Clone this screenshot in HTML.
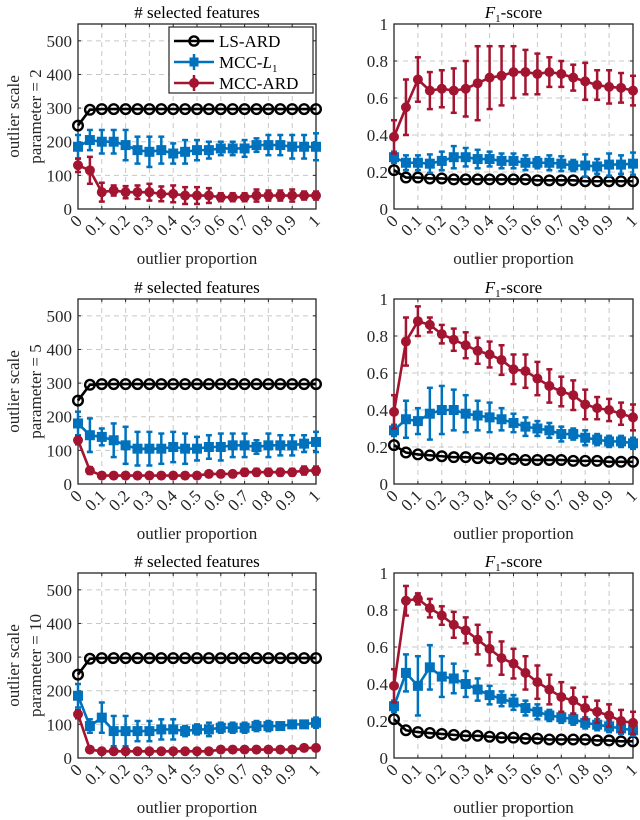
<!DOCTYPE html>
<html><head><meta charset="utf-8"><style>
html,body{margin:0;padding:0;background:#fff;}
svg{display:block;font-family:"Liberation Serif",serif;}
</style></head><body>
<svg id="fig" width="640" height="820" viewBox="0 0 640 820" xmlns="http://www.w3.org/2000/svg"></svg>
<script>
const xValues = [0,0.05,0.1,0.15,0.2,0.25,0.3,0.35,0.4,0.45,0.5,0.55,0.6,0.65,0.7,0.75,0.8,0.85,0.9,0.95,1];
const xTickLabels = ['0','0.1','0.2','0.3','0.4','0.5','0.6','0.7','0.8','0.9','1'];
const featTicks = [0,100,200,300,400,500];
const f1Ticks = [0,0.2,0.4,0.6,0.8,1];
const f1TickLabels = ['0','0.2','0.4','0.6','0.8','1'];
const scaleParams = ['2','5','10'];
const seriesNames = ['LS-ARD','MCC-L1','MCC-ARD'];

// scale 2 - features
const feat2LS = [248,295,297,297,297,297,297,297,297,297,297,297,297,297,297,297,297,297,297,297,297];
const feat2L1 = [185,205,200,200,190,175,170,175,165,170,175,175,180,180,180,190,190,190,185,185,185];
const feat2L1Err = [35,30,35,35,45,40,45,40,30,35,30,25,20,20,25,20,30,30,35,35,40];
const feat2ARD = [130,115,50,55,50,50,50,45,45,40,40,40,35,35,35,40,40,40,40,40,40];
const feat2ARDErr = [20,40,28,15,18,20,25,22,25,25,25,22,12,12,12,18,15,15,18,12,12];
// scale 2 - F1
const f12LS = [0.21,0.17,0.17,0.165,0.165,0.16,0.16,0.16,0.16,0.16,0.16,0.16,0.155,0.155,0.155,0.155,0.15,0.15,0.15,0.15,0.15];
const f12L1 = [0.28,0.25,0.25,0.245,0.26,0.28,0.28,0.27,0.27,0.26,0.26,0.25,0.25,0.25,0.245,0.235,0.235,0.23,0.24,0.24,0.245];
const f12L1Err = [0.03,0.04,0.04,0.05,0.05,0.06,0.05,0.05,0.04,0.04,0.04,0.04,0.03,0.04,0.04,0.03,0.06,0.04,0.06,0.05,0.06];
const f12ARD = [0.39,0.55,0.70,0.64,0.65,0.64,0.65,0.68,0.71,0.72,0.74,0.74,0.73,0.74,0.73,0.71,0.69,0.67,0.66,0.655,0.64];
const f12ARDErr = [0.09,0.15,0.12,0.1,0.1,0.12,0.15,0.2,0.17,0.16,0.14,0.12,0.11,0.08,0.07,0.07,0.1,0.08,0.09,0.08,0.08];
// scale 5 - features
const feat5LS = [248,295,297,297,297,297,297,297,297,297,297,297,297,297,297,297,297,297,297,297,297];
const feat5L1 = [180,145,140,130,115,105,105,105,110,105,105,110,110,115,115,110,115,115,115,120,125];
const feat5L1Err = [35,50,25,50,55,50,50,45,45,45,35,35,40,35,35,20,35,30,30,25,30];
const feat5ARD = [130,40,25,25,25,25,25,25,25,25,25,30,30,30,35,35,35,35,35,40,40];
const feat5ARDErr = [12,10,8,8,8,8,8,8,8,8,8,8,8,8,10,10,10,10,10,12,12];
// scale 5 - F1
const f15LS = [0.21,0.17,0.16,0.155,0.15,0.145,0.145,0.14,0.14,0.135,0.135,0.13,0.13,0.13,0.13,0.125,0.125,0.125,0.12,0.12,0.12];
const f15L1 = [0.29,0.35,0.34,0.38,0.40,0.40,0.38,0.37,0.36,0.35,0.33,0.31,0.30,0.29,0.27,0.27,0.25,0.24,0.23,0.23,0.22];
const f15L1Err = [0.03,0.1,0.07,0.14,0.13,0.11,0.1,0.08,0.08,0.06,0.05,0.05,0.04,0.04,0.04,0.03,0.04,0.03,0.03,0.03,0.03];
const f15ARD = [0.39,0.77,0.88,0.86,0.81,0.78,0.75,0.72,0.70,0.67,0.62,0.61,0.57,0.53,0.50,0.48,0.43,0.41,0.40,0.38,0.36];
const f15ARDErr = [0.09,0.13,0.08,0.04,0.05,0.06,0.07,0.07,0.07,0.08,0.08,0.09,0.09,0.09,0.08,0.08,0.08,0.06,0.06,0.06,0.07];
// scale 10 - features
const feat10LS = [248,295,297,297,297,297,297,297,297,297,297,297,297,297,297,297,297,297,297,297,297];
const feat10L1 = [185,95,120,80,80,80,80,85,85,80,85,85,90,90,90,95,95,95,100,100,105];
const feat10L1Err = [35,20,45,45,45,30,30,30,30,15,15,20,15,15,15,15,15,10,10,10,15];
const feat10ARD = [130,25,20,20,20,20,20,20,20,20,20,20,25,25,25,25,25,25,25,30,30];
const feat10ARDErr = [12,8,6,6,6,6,6,6,6,6,6,6,6,6,6,6,6,6,6,8,8];
// scale 10 - F1
const f110LS = [0.21,0.15,0.14,0.135,0.13,0.125,0.12,0.12,0.115,0.11,0.11,0.105,0.105,0.1,0.1,0.1,0.1,0.095,0.095,0.09,0.09];
const f110L1 = [0.28,0.46,0.39,0.49,0.44,0.43,0.40,0.37,0.34,0.32,0.30,0.27,0.25,0.23,0.22,0.21,0.19,0.18,0.17,0.16,0.15];
const f110L1Err = [0.03,0.1,0.16,0.12,0.11,0.08,0.07,0.06,0.05,0.04,0.04,0.04,0.04,0.03,0.03,0.03,0.03,0.03,0.03,0.03,0.03];
const f110ARD = [0.39,0.85,0.86,0.81,0.77,0.72,0.69,0.64,0.59,0.54,0.51,0.46,0.41,0.37,0.33,0.31,0.27,0.25,0.23,0.20,0.19];
const f110ARDErr = [0.09,0.08,0.03,0.05,0.05,0.07,0.07,0.08,0.09,0.09,0.08,0.09,0.09,0.08,0.08,0.07,0.06,0.06,0.06,0.06,0.06];

const NS='http://www.w3.org/2000/svg';
const svg=document.getElementById('fig');
function mk(tag,attrs,parent){const e=document.createElementNS(NS,tag);for(const k in attrs)e.setAttribute(k,attrs[k]);(parent||svg).appendChild(e);return e;}
const COL=['#000000','#0072BD','#A2142F'];
const rowBottoms=[209,484,758];
const H=185;
const featData=[[feat2LS,feat2L1,feat2L1Err,feat2ARD,feat2ARDErr],[feat5LS,feat5L1,feat5L1Err,feat5ARD,feat5ARDErr],[feat10LS,feat10L1,feat10L1Err,feat10ARD,feat10ARDErr]];
const f1Data=[[f12LS,f12L1,f12L1Err,f12ARD,f12ARDErr],[f15LS,f15L1,f15L1Err,f15ARD,f15ARDErr],[f110LS,f110L1,f110L1Err,f110ARD,f110ARDErr]];

function panel(r,isF1){
  const x0=isF1?394:78, x1=isF1?633:316;
  const yb=rowBottoms[r], yt=yb-H;
  const ymax=isF1?1:550;
  const sx=v=>x0+(x1-x0)*v;
  const sy=v=>yb-H*v/ymax;
  const g=mk('g',{});
  
  
  for(let i=0;i<xTickLabels.length;i++){const xv=sx(i/10);
    if(i>0&&i<10)mk('line',{x1:xv,x2:xv,y1:yt,y2:yb,stroke:'#c8c8c8','stroke-dasharray':'5,4','stroke-width':1},g);}
  const yt_=isF1?f1Ticks:featTicks;
  yt_.forEach(v=>{const yy=sy(v);if(v>0&&v<ymax)mk('line',{x1:x0,x2:x1,y1:yy,y2:yy,stroke:'#c8c8c8','stroke-dasharray':'5,4','stroke-width':1},g);});
  const box=mk('rect',{x:x0,y:yt,width:x1-x0,height:H,fill:'none',stroke:'#262626','stroke-width':1.3},g);
  
  
  yt_.forEach((v,i)=>{const yy=sy(v);
    mk('line',{x1:x0,x2:x0+3,y1:yy,y2:yy,stroke:'#262626'},g);
    mk('line',{x1:x1,x2:x1-3,y1:yy,y2:yy,stroke:'#262626'},g);
    const t=mk('text',{x:x0-6,y:yy+6,'text-anchor':'end','font-size':17,fill:'#262626'},g);
    t.textContent=isF1?f1TickLabels[i]:String(v);
    
    
  });
  xTickLabels.forEach((lab,i)=>{const xv=sx(i/10);
    mk('line',{x1:xv,x2:xv,y1:yb,y2:yb-3,stroke:'#262626'},g);
    mk('line',{x1:xv,x2:xv,y1:yt,y2:yt+3,stroke:'#262626'},g);
    const ax=xv+5, ay=yb+13;
    const t=mk('text',{x:ax,y:ay,'text-anchor':'end','font-size':17,fill:'#262626',transform:`rotate(-45 ${ax} ${ay})`},g);
    t.textContent=lab;
    
    
  });
  const xl=mk('text',{x:(x0+x1)/2,y:yb+55,'text-anchor':'middle','font-size':17,fill:'#262626'},g);
  xl.textContent='outlier proportion';
  
  
  const ti=mk('text',{x:(x0+x1)/2,y:yt-6,'text-anchor':'middle','font-size':17,fill:'#000'},g);
  
  
  if(isF1){ti.innerHTML='<tspan font-style="italic">F</tspan><tspan font-size="11" dy="4">1</tspan><tspan dy="-4">-score</tspan>';}
  else ti.textContent='# selected features';
  if(!isF1){
    const cy=yt+H/2;
    const yl=mk('text',{x:0,y:0,'text-anchor':'middle','font-size':17,fill:'#262626',transform:`translate(19 ${cy}) rotate(-90)`},g);
    yl.textContent='outlier scale';
    
    
    const yl2=mk('text',{x:0,y:0,'text-anchor':'middle','font-size':17,fill:'#262626',transform:`translate(41 ${cy}) rotate(-90)`},g);
    yl2.textContent='parameter = '+scaleParams[r];
    
    
  }
  const d=isF1?f1Data[r]:featData[r];
  const series=[[d[0],null],[d[1],d[2]],[d[3],d[4]]];
  series.forEach((s,si)=>{
    const sg=mk('g',{},g);
    
    
    const vals=s[0],err=s[1],c=COL[si];
    if(err){vals.forEach((v,i)=>{const xv=sx(xValues[i]);
      mk('line',{x1:xv,x2:xv,y1:sy(v-err[i]),y2:sy(v+err[i]),stroke:c,'stroke-width':2.5},sg);
      [v-err[i],v+err[i]].forEach(e=>mk('line',{x1:xv-3,x2:xv+3,y1:sy(e),y2:sy(e),stroke:c,'stroke-width':2.5},sg));});}
    mk('polyline',{points:vals.map((v,i)=>sx(xValues[i])+','+sy(v)).join(' '),fill:'none',stroke:c,'stroke-width':2.6},sg);
    vals.forEach((v,i)=>{const xv=sx(xValues[i]),yy=sy(v);let m;
      if(si===0)m=mk('circle',{cx:xv,cy:yy,r:4.8,fill:'none',stroke:c,'stroke-width':2.4},sg);
      else if(si===1)m=mk('rect',{x:xv-4.5,y:yy-4.5,width:9,height:9,fill:c,stroke:c,'stroke-width':1},sg);
      else m=mk('circle',{cx:xv,cy:yy,r:5,fill:c},sg);
      
      
    });
  });
}
for(let r=0;r<3;r++){panel(r,false);panel(r,true);}
const lg=mk('g',{});


mk('rect',{x:169,y:27,width:144,height:66,fill:'#fff',stroke:'#262626','stroke-width':1.2},lg);
const ly=[41,62,83];
seriesNames.forEach((n,i)=>{
  const eg=mk('g',{},lg);
  
  
  mk('line',{x1:174,x2:214,y1:ly[i],y2:ly[i],stroke:COL[i],'stroke-width':2.6},eg);
  if(i>0)mk('line',{x1:194,x2:194,y1:ly[i]-8,y2:ly[i]+8,stroke:COL[i],'stroke-width':2.5},eg);
  if(i===0)mk('circle',{cx:194,cy:ly[i],r:4.6,fill:'none',stroke:COL[i],'stroke-width':2.4},eg);
  else if(i===1)mk('rect',{x:189.5,y:ly[i]-4.5,width:9,height:9,fill:COL[i]},eg);
  else mk('circle',{cx:194,cy:ly[i],r:5,fill:COL[i]},eg);
  const t=mk('text',{x:219,y:ly[i]+6,'font-size':17,fill:'#000'},eg);
  if(i===1)t.innerHTML='MCC-<tspan font-style="italic">L</tspan><tspan font-size="11" dy="4">1</tspan>';
  else t.textContent=n;
});
</script>
</body></html>
